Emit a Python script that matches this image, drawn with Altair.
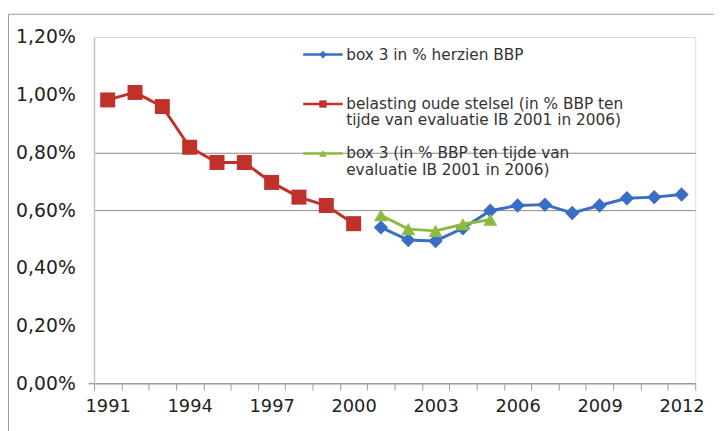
import altair as alt
import pandas as pd

years = [str(y) for y in range(1991, 2013)]

red_years = [str(y) for y in range(1991, 2001)]
red_values = [0.982, 1.008, 0.959, 0.818, 0.765, 0.765, 0.696, 0.645, 0.616, 0.553]

blue_years = [str(y) for y in range(2001, 2013)]
blue_values = [0.540, 0.496, 0.493, 0.537, 0.598, 0.616, 0.619, 0.590, 0.616, 0.641, 0.645, 0.654]

green_years = [str(y) for y in range(2001, 2006)]
green_values = [0.582, 0.534, 0.528, 0.551, 0.567]

legend_lines = [
    ["box 3 in % herzien BBP"],
    ["belasting oude stelsel (in % BBP ten", "tijde van evaluatie IB 2001 in 2006)"],
    ["box 3 (in % BBP ten tijde van", "evaluatie IB 2001 in 2006)"],
]
colors = ["#3A6DC5", "#C0312B", "#8DBB3F"]
shapes = ["diamond", "square", "triangle-up"]
sizes = [210, 230, 200]
legend_sizes = [60, 55, 60]

FONT = "DejaVu Sans"

blue_df = pd.DataFrame({"year": blue_years, "value": blue_values})
red_df = pd.DataFrame({"year": red_years, "value": red_values})
green_df = pd.DataFrame({"year": green_years, "value": green_values})
series_dfs = [blue_df, red_df, green_df]

x_enc = alt.X(
    "year:O",
    bandPosition=0.5,
    scale=alt.Scale(type="band", domain=years, paddingInner=0, paddingOuter=0),
    axis=alt.Axis(
        title=None,
        labelAngle=0,
        tickBand="extent",
        labelExpr="(toNumber(datum.value) - 1991) % 3 == 0 ? datum.label : ''",
        labelFont=FONT,
        labelFontSize=18,
        labelColor="#222222",
        labelPadding=8,
        tickSize=7,
        tickColor="#9a9a9a",
        domainColor="#9a9a9a",
        domainWidth=1.5,
        grid=False,
    ),
)
y_enc = alt.Y(
    "value:Q",
    scale=alt.Scale(domain=[0, 1.2], nice=False),
    axis=alt.Axis(
        title=None,
        values=[0, 0.2, 0.4, 0.6, 0.8, 1.0, 1.2],
        labelExpr="replace(format(datum.value, '.2f'), '.', ',') + '%'",
        labelFont=FONT,
        labelFontSize=19,
        labelColor="#222222",
        labelPadding=13,
        ticks=True,
        tickSize=6,
        tickWidth=1.5,
        tickColor="#9a9a9a",
        tickOpacity={"condition": {"test": "datum.value < 0.01", "value": 1}, "value": 0},
        domainColor="#c4c4c4",
        domainWidth=1.5,
        grid=True,
        gridColor="#8a8a8a",
        gridWidth=1,
        gridOpacity={"condition": {"test": "datum.value > 0.5 && datum.value < 0.9", "value": 1}, "value": 0},
    ),
)

layers = []

one = pd.DataFrame({"k": [0]})
frame = alt.Chart(one).mark_rect(fillOpacity=0, stroke="#9a9a9a", strokeWidth=1).encode(
    x=alt.value(-86.5), x2=alt.value(650), y=alt.value(-23), y2=alt.value(430)
)
layers.append(frame)

for df, col, shp, sz in zip(series_dfs, colors, shapes, sizes):
    base = alt.Chart(df).encode(x=x_enc, y=y_enc)
    layers.append(base.mark_line(color=col, strokeWidth=3))
    layers.append(base.mark_point(shape=shp, filled=True, color=col, size=sz, opacity=1))

# legend (inside plot area)
legend_y = [17.7, 67.7, 117.7]
line_gap = 16.5
for i in range(3):
    yv = legend_y[i]
    layers.append(
        alt.Chart(one).mark_rule(color=colors[i], strokeWidth=2.5).encode(
            x=alt.value(211.5), x2=alt.value(251.5), y=alt.value(yv)
        )
    )
    layers.append(
        alt.Chart(one).mark_point(shape=shapes[i], filled=True, color=colors[i], size=legend_sizes[i], opacity=1).encode(
            x=alt.value(231.5), y=alt.value(yv)
        )
    )
    for j, txt in enumerate(legend_lines[i]):
        layers.append(
            alt.Chart(pd.DataFrame({"t": [txt]})).mark_text(
                align="left", baseline="middle", font=FONT, fontSize=15.5, color="#333333"
            ).encode(text="t:N", x=alt.value(255), y=alt.value(yv + j * line_gap))
        )

chart = alt.layer(*layers).properties(
    width=608,
    height=350,
    autosize=alt.AutoSizeParams(type="none"),
    padding={"left": 87, "top": 27, "right": 19, "bottom": 46},
).configure_view(stroke=None).configure(background="white")

chart.save("out.html", embed_options={"renderer": "svg", "actions": False})
